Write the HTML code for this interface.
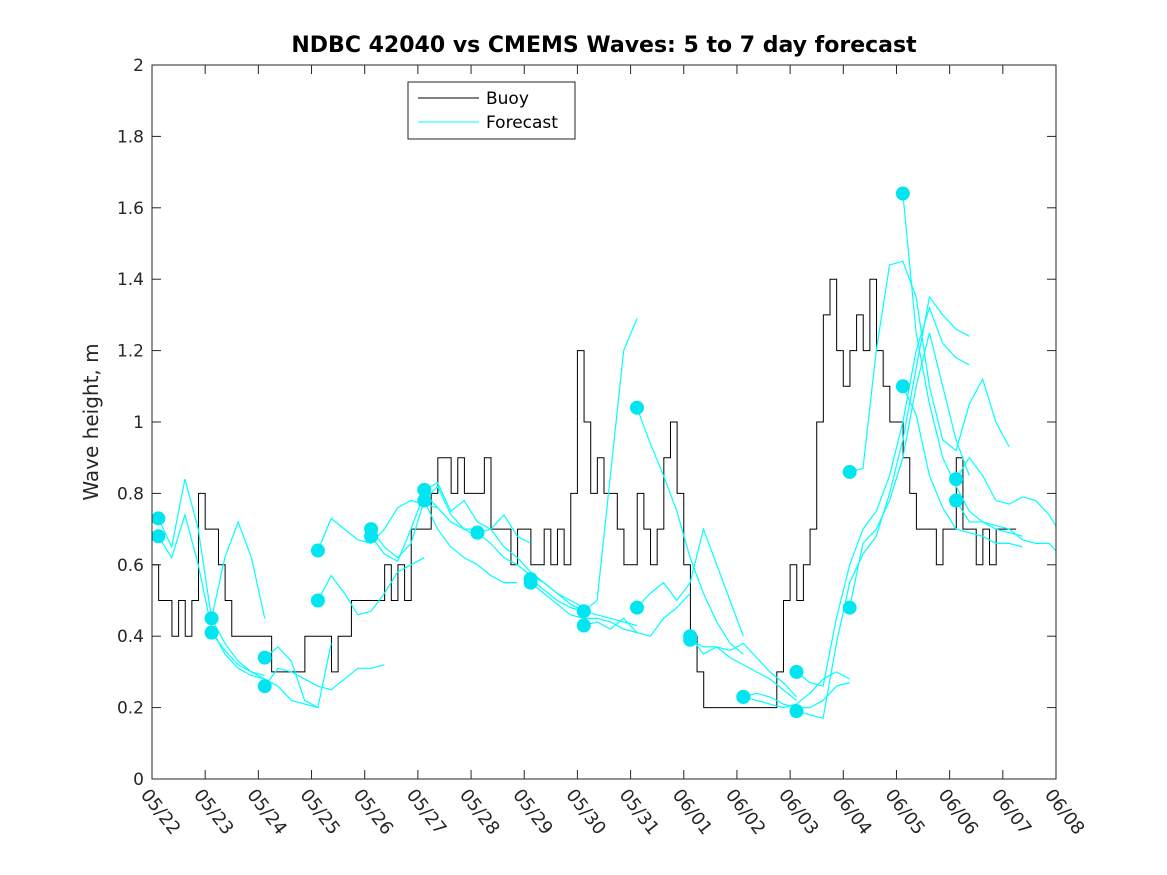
<!DOCTYPE html>
<html><head><meta charset="utf-8"><style>
body{margin:0;background:#fff;}
svg{display:block;font-family:"DejaVu Sans","Liberation Sans",sans-serif;}
</style></head><body>
<svg id="chart" width="1167" height="875" viewBox="0 0 1167 875">
<defs><clipPath id="plotclip"><rect x="152" y="65" width="904" height="714"/></clipPath></defs>
<rect width="1167" height="875" fill="#fff"/>
<text x="604" y="52" text-anchor="middle" font-size="22" font-weight="bold" fill="#000">NDBC 42040 vs CMEMS Waves: 5 to 7 day forecast</text>
<text transform="translate(98,422) rotate(-90)" text-anchor="middle" font-size="20" fill="#262626">Wave height, m</text>
<g id="series" clip-path="url(#plotclip)"></g>
<rect x="152" y="65" width="904" height="714" fill="none" stroke="#262626" stroke-width="1"/>
<g id="axes"></g>
<g>
<rect x="408" y="82" width="167" height="57" fill="#fff" stroke="#262626" stroke-width="1"/>
<line x1="418" y1="98" x2="479" y2="98" stroke="#000" stroke-width="1"/>
<text x="486" y="104" font-size="17" fill="#000">Buoy</text>
<line x1="418" y1="122" x2="479" y2="122" stroke="#00ffff" stroke-width="1"/>
<text x="486" y="128" font-size="17" fill="#000">Forecast</text>
</g>
</svg>
<script>
const xTickLabels=["05/22","05/23","05/24","05/25","05/26","05/27","05/28","05/29","05/30","05/31","06/01","06/02","06/03","06/04","06/05","06/06","06/07","06/08"];
const yTicks=[0,0.2,0.4,0.6,0.8,1,1.2,1.4,1.6,1.8,2];
const buoyStep=0.125;
const buoyValues=[
0.6,0.5,0.5,0.4,0.5,0.4,0.5,0.8,
0.7,0.7,0.6,0.5,0.4,0.4,0.4,0.4,
0.4,0.4,0.3,0.3,0.3,0.3,0.3,0.4,
0.4,0.4,0.4,0.3,0.4,0.4,0.5,0.5,
0.5,0.5,0.5,0.6,0.5,0.6,0.5,0.7,
0.7,0.7,0.8,0.9,0.9,0.8,0.9,0.8,
0.8,0.8,0.9,0.7,0.7,0.7,0.6,0.7,
0.7,0.6,0.6,0.7,0.6,0.7,0.6,0.8,
1.2,1.0,0.8,0.9,0.8,0.8,0.7,0.6,
0.6,0.8,0.7,0.6,0.7,0.9,1.0,0.8,
0.6,0.4,0.3,0.2,0.2,0.2,0.2,0.2,
0.2,0.2,0.2,0.2,0.2,0.2,0.3,0.5,
0.6,0.5,0.6,0.7,1.0,1.3,1.4,1.2,
1.1,1.2,1.3,1.2,1.4,1.2,1.1,1.0,
1.0,0.9,0.8,0.7,0.7,0.7,0.6,0.7,
0.7,0.9,0.7,0.7,0.6,0.7,0.6,0.7,
0.7,0.7];
const fcStep=0.25;
const fcStarts=[0.12,0.12,1.12,1.12,2.12,2.12,3.12,3.12,4.12,4.12,5.12,5.12,6.12,6.12,7.12,7.12,8.12,8.12,9.12,9.12,10.12,10.12,11.12,11.12,12.12,12.12,13.12,13.12,14.12,14.12,15.12,15.12];
const fcValues=[
[0.73,0.65,0.84,0.70,0.45,0.38,0.33,0.30,0.29],
[0.68,0.62,0.74,0.60,0.42,0.35,0.31,0.29,0.28],
[0.45,0.62,0.72,0.62,0.45],
[0.41,0.36,0.32,0.30,0.28,0.26,0.22,0.21,0.20],
[0.34,0.37,0.33,0.22,0.20,0.38],
[0.26,0.31,0.30,0.28,0.26,0.25,0.28,0.31,0.31,0.32],
[0.64,0.73,0.70,0.67,0.66,0.70,0.76,0.78,0.77,0.76],
[0.50,0.57,0.52,0.46,0.47,0.52,0.58,0.60,0.62],
[0.70,0.65,0.62,0.66,0.78,0.82,0.74,0.70,0.68],
[0.68,0.63,0.61,0.70,0.80,0.76,0.72,0.70,0.70],
[0.81,0.83,0.75,0.78,0.72,0.70,0.74,0.68,0.66],
[0.78,0.70,0.65,0.62,0.60,0.57,0.55,0.55],
[0.69,0.66,0.62,0.60,0.57,0.55,0.52,0.50,0.48],
[0.69,0.70,0.65,0.62,0.58,0.55,0.52,0.49,0.47],
[0.56,0.53,0.50,0.48,0.47,0.46,0.45,0.44,0.43],
[0.55,0.52,0.49,0.46,0.45,0.45,0.44,0.42,0.41],
[0.47,0.50,0.85,1.20,1.29],
[0.43,0.44,0.42,0.45,0.41,0.40,0.45,0.48,0.52],
[1.04,0.94,0.85,0.75,0.62,0.52,0.44,0.38,0.35],
[0.48,0.52,0.55,0.50,0.55,0.70,0.60,0.50,0.40],
[0.40,0.35,0.37,0.34,0.32,0.30,0.28,0.25,0.22],
[0.39,0.37,0.37,0.36,0.38,0.34,0.30,0.27,0.23],
[0.23,0.22,0.21,0.20,0.21,0.24,0.28,0.30,0.28],
[0.23,0.24,0.23,0.21,0.20,0.20,0.22,0.26,0.27],
[0.30,0.27,0.26,0.45,0.60,0.70,0.75,0.85,1.00,1.20,1.32,1.22,1.18,1.16],
[0.19,0.18,0.17,0.38,0.55,0.63,0.68,0.80,0.95,1.15,1.35,1.30,1.26,1.24],
[0.86,0.87,1.20,1.44,1.45,1.35,1.10,0.95,0.92,1.05,1.12,1.00,0.93],
[0.48,0.66,0.70,0.78,0.90,1.10,1.25,1.10,0.95,0.85],
[1.64,1.25,1.05,0.90,0.82,0.75,0.72,0.70,0.69,0.68],
[1.10,1.02,0.85,0.76,0.70,0.69,0.68,0.66,0.66,0.65],
[0.84,0.90,0.85,0.78,0.77,0.79,0.78,0.74,0.68,0.62,0.67],
[0.78,0.72,0.72,0.71,0.70,0.67,0.66,0.66,0.62,0.58,0.56]];
const NS="http://www.w3.org/2000/svg";
const X0=152,X1=1056,Y0=779,Y1=65,DAYS=17,YMAX=2;
function xs(d){return X0+(X1-X0)*d/DAYS;}
function ys(v){return Y0-(Y0-Y1)*v/YMAX;}
function mk(tag,attrs,parent){const e=document.createElementNS(NS,tag);for(const k in attrs)e.setAttribute(k,attrs[k]);parent.appendChild(e);return e;}
const axes=document.getElementById('axes'),series=document.getElementById('series');
yTicks.forEach((v,i)=>{
  const y=ys(v);
  const t1=mk('line',{x1:X0,y1:y,x2:X0+9,y2:y,stroke:'#262626'},axes);
  
  
  mk('line',{x1:X1-9,y1:y,x2:X1,y2:y,stroke:'#262626'},axes);
  const t=mk('text',{x:X0-8,y:y+6,'text-anchor':'end','font-size':'17',fill:'#262626'},axes);
  t.textContent=String(v);
  
  
});
xTickLabels.forEach((lab,i)=>{
  const x=xs(i);
  const t1=mk('line',{x1:x,y1:Y0,x2:x,y2:Y0-9,stroke:'#262626'},axes);
  
  
  mk('line',{x1:x,y1:Y1,x2:x,y2:Y1+9,stroke:'#262626'},axes);
  const t=mk('text',{transform:`translate(${x-12},${Y0+16}) rotate(52)`,'font-size':'18',fill:'#262626'},axes);
  t.textContent=lab;
  
  
});
let d='';
buoyValues.forEach((v,i)=>{
  const x=xs(i*buoyStep),y=ys(v);
  if(i===0)d+=`M${x},${y}`;else d+=`V${y}`;
  d+=`H${xs((i+1)*buoyStep)}`;
});
const bp=mk('path',{d:d,fill:'none',stroke:'#000','stroke-width':'1'},series);


fcValues.forEach((vals,j)=>{
  const s=fcStarts[j];
  const pts=vals.map((v,i)=>xs(s+i*fcStep)+','+ys(v)).join(' ');
  const pl=mk('polyline',{points:pts,fill:'none',stroke:'#00ffff','stroke-width':'1.2'},series);
  
  
});
fcValues.forEach((vals,j)=>{
  const c=mk('circle',{cx:xs(fcStarts[j]),cy:ys(vals[0]),r:7,fill:'#00e6f0'},series);
  
  
});
</script>
</body></html>
